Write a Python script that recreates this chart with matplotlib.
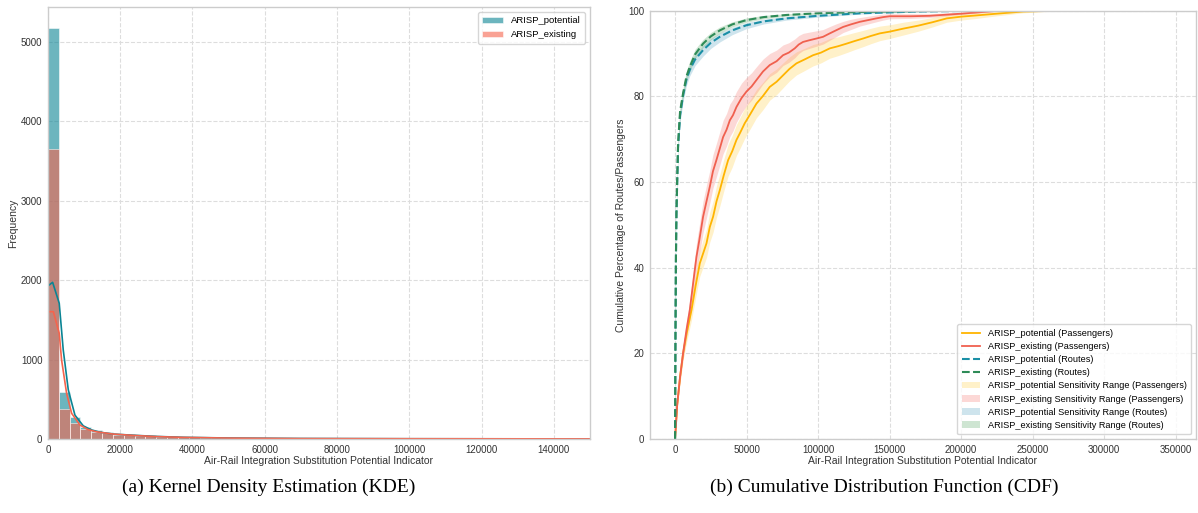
import numpy as np
import matplotlib
matplotlib.use("Agg")
import matplotlib.pyplot as plt
from matplotlib.patches import Patch
from matplotlib.lines import Line2D

plt.rcParams['font.family'] = ['Liberation Sans', 'DejaVu Sans']

# ---- (a) histogram data: bin width 3000, counts ----
bin_w = 3000
pot_counts = [5170, 586, 280, 150, 110, 85, 68, 58, 50, 44, 38, 34, 30, 27, 24, 21,
              18, 16, 14, 12, 10, 9, 8, 7, 6, 5, 5, 4, 4, 3, 3, 3, 2, 2, 2, 2,
              1, 1, 1, 1, 1, 1, 1, 1, 1, 1, 1, 1, 1, 1]
exi_counts = [3652, 373, 197, 122, 88, 70, 55, 45, 38, 32, 28, 25, 22, 19, 17, 15,
              13, 12, 10, 9, 8, 7, 6, 5, 5, 4, 4, 3, 3, 3, 2, 2, 2, 2, 1, 1,
              1, 1, 1, 1, 1, 1, 1, 1, 1, 1, 1, 1, 1, 1]

# KDE curves (scaled to counts)
kde_pot_x = [0, 1300, 3130, 4240, 5630, 7480, 9780, 12000, 14400, 18000, 23600, 30000, 37500,
             50000, 70000, 100000, 150000]
kde_pot_y = [1927, 1973, 1709, 1121, 620, 300, 165, 115, 85, 62, 47, 32, 21, 12, 6, 3, 1]
kde_exi_x = [0, 1500, 3130, 3780, 5170, 6560, 8860, 11000, 13500, 18000, 23600, 30000, 37500,
             50000, 70000, 100000, 150000]
kde_exi_y = [1603, 1603, 1331, 995, 575, 323, 176, 120, 90, 62, 45, 30, 20, 11, 5, 3, 1]

# ---- (b) CDF data ----
rt_pot_x = [0, 300, 600, 1000, 2100, 3500, 5600, 8000, 10300, 14000, 19600, 25000, 31300, 40000,
            49900, 62000, 77900, 100000, 130000, 170000, 220000, 305000]
rt_pot_y = [0, 25, 42, 53, 68, 75.5, 80.2, 84, 86.2, 88.6, 90.8, 92.5, 93.9, 95.4, 96.6, 97.5,
            98.2, 98.8, 99.4, 99.8, 100, 100]
rt_pot_lo = [0, 24, 40.5, 51.5, 66.5, 74, 78.8, 82.6, 84.8, 87.2, 89.4, 91.2, 92.7, 94.4, 95.8,
             96.9, 97.8, 98.5, 99.2, 99.7, 99.95, 100]
rt_pot_hi = [0, 26, 43.5, 54.5, 69.5, 77, 81.5, 85.2, 87.4, 89.8, 91.9, 93.5, 94.8, 96.1, 97.2,
             98.0, 98.6, 99.1, 99.6, 99.9, 100, 100]

rt_exi_x = [0, 300, 600, 980, 2100, 3500, 5600, 8000, 10300, 14000, 19600, 25000, 31300, 40000,
            49900, 62000, 77900, 100000, 130000, 170000, 220000, 305000]
rt_exi_y = [0, 25, 42, 53.4, 69, 76.5, 80.7, 84.7, 86.9, 89.8, 92.3, 94, 95.4, 96.8, 97.8, 98.5,
            99, 99.4, 99.7, 99.9, 100, 100]
rt_exi_lo = [0, 24, 40.5, 52, 67.5, 75, 79.5, 83.5, 85.8, 88.8, 91.4, 93.2, 94.7, 96.2, 97.3,
             98.1, 98.7, 99.2, 99.6, 99.85, 100, 100]
rt_exi_hi = [0, 26, 43.5, 55, 70.5, 78, 82, 86, 88.2, 91, 93.3, 94.9, 96.2, 97.4, 98.3, 98.9,
             99.3, 99.6, 99.8, 99.95, 100, 100]

px_exi_x = [0, 1500, 3500, 5600, 8000, 10300, 12500, 14950, 17000, 19600, 22000, 24300, 26500,
            28900, 31000, 33600, 36000, 38300, 40500, 42900, 46500, 49900, 53500, 56900, 61500,
            66200, 71000, 75500, 79500, 83700, 86500, 89500, 94000, 98900, 103500, 108200,
            112500, 117500, 123000, 129200, 135000, 140800, 145500, 150100, 165000, 178000,
            200000, 227000, 260000, 305000]
px_exi_y = [0, 8, 14.5, 20, 25.5, 30.1, 36, 42.5, 46.5, 51.9, 55.5, 58.9, 62.5, 65.1, 67.5, 70.5,
            72.2, 74.4, 75.6, 77.5, 79.6, 81.1, 82.3, 83.8, 85.8, 87.3, 88.2, 89.6, 90.2, 91.2,
            92.1, 92.7, 93.1, 93.5, 93.9, 94.7, 95.4, 96.2, 96.8, 97.4, 97.8, 98.2, 98.5, 98.7,
            98.7, 98.8, 99.3, 100, 100, 100]
px_exi_lo = [0, 7.3, 13.3, 18.5, 23.6, 27.8, 33.3, 39.3, 43, 48.2, 51.7, 55.1, 58.6, 61.2, 63.6,
             66.6, 68.4, 70.6, 71.9, 73.9, 76.1, 77.8, 79.1, 80.7, 82.9, 84.6, 85.6, 87.2, 87.9,
             89, 90, 90.7, 91.2, 91.7, 92.2, 93.1, 93.9, 94.9, 95.6, 96.4, 96.9, 97.4, 97.8, 98.1,
             98.2, 98.4, 99.1, 99.9, 100, 100]
px_exi_hi = [0, 8.7, 15.7, 21.5, 27.4, 32.4, 38.7, 45.7, 50, 55.6, 59.3, 62.7, 66.4, 69, 71.4,
             74.4, 76, 78.2, 79.3, 81.1, 83.1, 84.4, 85.5, 86.9, 88.7, 90, 90.8, 92, 92.5, 93.4,
             94.2, 94.7, 95, 95.3, 95.6, 96.3, 96.9, 97.5, 98, 98.4, 98.7, 99, 99.2, 99.3, 99.3,
             99.3, 99.6, 100, 100, 100]

px_pot_x = [0, 1500, 3500, 5600, 8000, 11500, 14500, 17300, 19800, 22000, 24300, 26600, 29000,
            31300, 34000, 37100, 40000, 42900, 45500, 48700, 52500, 56900, 61500, 66200, 71000,
            75500, 80000, 84900, 90500, 96500, 102000, 108200, 114000, 119900, 125500, 131500,
            137000, 143200, 150000, 159500, 170000, 180000, 190000, 200000, 211000, 225000,
            243500, 270000, 305000]
px_pot_y = [0, 8, 14.5, 20, 24.5, 30.1, 36, 41, 43.5, 45.7, 49.5, 51.9, 55.5, 58.1, 61.5, 65.1,
            67.2, 69.8, 71.5, 73.7, 75.8, 78.3, 80.1, 82.2, 83.4, 84.9, 86.4, 87.7, 88.6, 89.6,
            90.2, 91.2, 91.7, 92.3, 92.9, 93.5, 94.1, 94.7, 95.1, 95.8, 96.5, 97.3, 98.2, 98.6,
            98.9, 99.3, 99.8, 100, 100]
px_pot_lo = [0, 7.3, 13.3, 18.5, 22.5, 27.8, 33.2, 38, 40.3, 42.4, 46, 48.3, 51.8, 54.4, 57.8,
             61.4, 63.5, 66.2, 67.9, 70.2, 72.4, 75, 76.9, 79.1, 80.4, 82, 83.6, 85, 86, 87.1,
             87.8, 88.9, 89.5, 90.2, 90.9, 91.6, 92.3, 93, 93.5, 94.3, 95.2, 96.2, 97.3, 97.8,
             98.2, 98.8, 99.5, 100, 100]
px_pot_hi = [0, 8.7, 15.7, 21.5, 26.5, 32.4, 38.8, 44, 46.7, 49, 53, 55.5, 59.2, 61.8, 65.2, 68.8,
             70.9, 73.4, 75.1, 77.2, 79.2, 81.6, 83.3, 85.3, 86.4, 87.8, 89.2, 90.4, 91.2, 92.1,
             92.6, 93.5, 93.9, 94.4, 94.9, 95.4, 95.9, 96.4, 96.7, 97.3, 97.8, 98.4, 99.1, 99.4,
             99.6, 99.8, 100, 100, 100]

# ---- colours ----
c_teal = '#0a8494'
c_salmon = '#f5644d'
c_yel = '#ffb400'
c_red = '#f0604f'
c_rt_pot = '#1a8fa6'
c_rt_exi = '#2e8b57'
b_yel = '#ffd24d'
b_red = '#f7807a'
b_rt_pot = '#5ea8c4'
b_rt_exi = '#5fa96b'

fig = plt.figure(figsize=(11.98, 5.13), dpi=100)
ax1 = fig.add_axes([0.040, 0.1443, 0.4525, 0.842])
ax2 = fig.add_axes([0.5426, 0.1443, 0.4554, 0.8349])

for ax in (ax1, ax2):
    ax.set_axisbelow(True)
    ax.grid(True, linestyle='--', color='#dddddd', linewidth=0.8)
    for s in ax.spines.values():
        s.set_color('#cccccc')
        s.set_linewidth(1.0)
    ax.tick_params(axis='both', length=0, labelsize=7, colors='#333333', pad=4)

# (a)
edges = np.arange(len(pot_counts) + 1) * bin_w
ax1.bar(edges[:-1], pot_counts, width=bin_w, align='edge', color=c_teal, alpha=0.6,
        edgecolor='white', linewidth=0.6, label='ARISP_potential')
ax1.bar(edges[:-1], exi_counts, width=bin_w, align='edge', color=c_salmon, alpha=0.6,
        edgecolor='white', linewidth=0.6, label='ARISP_existing')
ax1.plot(kde_pot_x, kde_pot_y, color=c_teal, lw=1.2)
ax1.plot(kde_exi_x, kde_exi_y, color=c_salmon, lw=1.2)
ax1.set_xlim(0, 150000)
ax1.set_ylim(0, 5440)
ax1.set_xticks(np.arange(0, 150000, 20000))
ax1.set_yticks([0, 1000, 2000, 3000, 4000, 5000])
ax1.set_xlabel('Air-Rail Integration Substitution Potential Indicator', fontsize=7.5, labelpad=1, color='#333333')
ax1.set_ylabel('Frequency', fontsize=7.5, labelpad=2, color='#333333')
leg1 = ax1.legend(loc='upper right', fontsize=6.8, frameon=True, handlelength=2.2, borderpad=0.5)
leg1.get_frame().set_edgecolor('#cccccc')

# (b)
ax2.fill_between(px_pot_x, px_pot_lo, px_pot_hi, color=b_yel, alpha=0.3, lw=0)
ax2.fill_between(px_exi_x, px_exi_lo, px_exi_hi, color=b_red, alpha=0.3, lw=0)
ax2.fill_between(rt_pot_x, rt_pot_lo, rt_pot_hi, color=b_rt_pot, alpha=0.3, lw=0)
ax2.fill_between(rt_exi_x, rt_exi_lo, rt_exi_hi, color=b_rt_exi, alpha=0.3, lw=0)
ax2.plot(px_pot_x, px_pot_y, color=c_yel, lw=1.3)
ax2.plot(px_exi_x, px_exi_y, color=c_red, lw=1.3)
ax2.plot(rt_pot_x, rt_pot_y, color=c_rt_pot, lw=1.5, ls='--')
ax2.plot(rt_exi_x, rt_exi_y, color=c_rt_exi, lw=1.5, ls='--')
ax2.set_xlim(-17500, 364000)
ax2.set_ylim(0, 100)
ax2.set_xticks(np.arange(0, 350001, 50000))
ax2.set_xlabel('Air-Rail Integration Substitution Potential Indicator', fontsize=7.5, labelpad=1, color='#333333')
ax2.set_ylabel('Cumulative Percentage of Routes/Passengers', fontsize=7.5, labelpad=2, color='#333333')

handles = [
    Line2D([], [], color=c_yel, lw=1.3),
    Line2D([], [], color=c_red, lw=1.3),
    Line2D([], [], color=c_rt_pot, lw=1.5, ls='--'),
    Line2D([], [], color=c_rt_exi, lw=1.5, ls='--'),
    Patch(facecolor=b_yel, alpha=0.3),
    Patch(facecolor=b_red, alpha=0.3),
    Patch(facecolor=b_rt_pot, alpha=0.3),
    Patch(facecolor=b_rt_exi, alpha=0.3),
]
labels = [
    'ARISP_potential (Passengers)',
    'ARISP_existing (Passengers)',
    'ARISP_potential (Routes)',
    'ARISP_existing (Routes)',
    'ARISP_potential Sensitivity Range (Passengers)',
    'ARISP_existing Sensitivity Range (Passengers)',
    'ARISP_potential Sensitivity Range (Routes)',
    'ARISP_existing Sensitivity Range (Routes)',
]
leg2 = ax2.legend(handles, labels, loc='lower right', fontsize=6.6, frameon=True,
                  handlelength=2.0, labelspacing=0.45, borderpad=0.5)
leg2.get_frame().set_edgecolor('#cccccc')

fig.text(0.224, 0.05, '(a) Kernel Density Estimation (KDE)', ha='center', va='center',
         fontsize=14, family='Liberation Serif')
fig.text(0.738, 0.05, '(b) Cumulative Distribution Function (CDF)', ha='center', va='center',
         fontsize=14, family='Liberation Serif')

fig.savefig('out.png', dpi=100)
